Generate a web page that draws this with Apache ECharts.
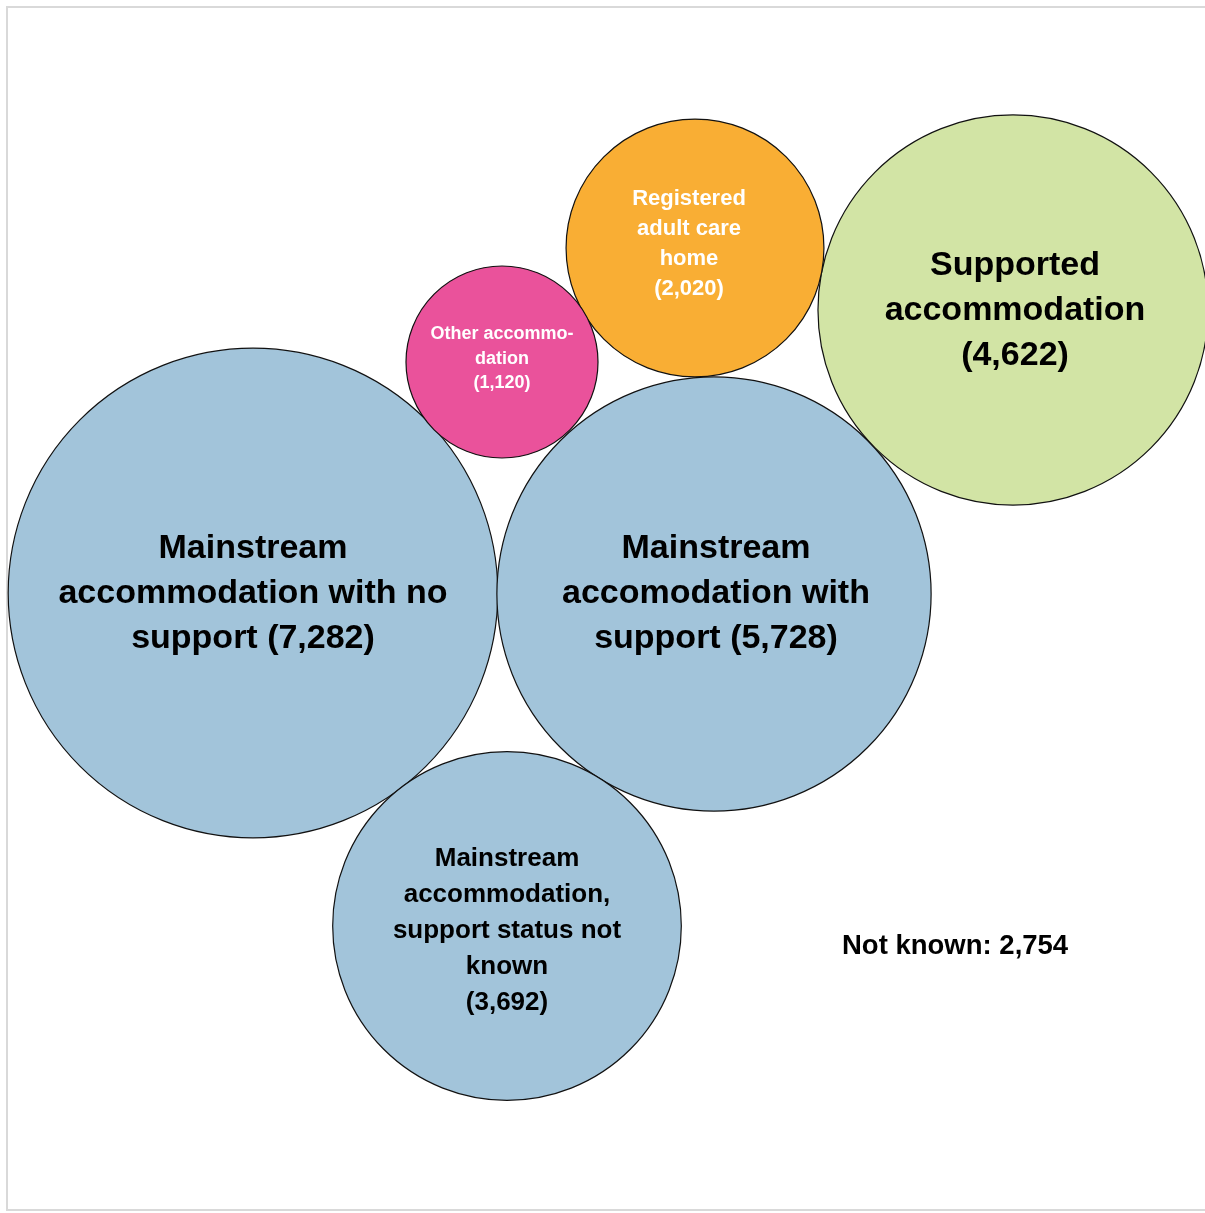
<!DOCTYPE html>
<html>
<head>
<meta charset="utf-8">
<script src="https://cdn.jsdelivr.net/npm/echarts@6/dist/echarts.min.js"></script>
<style>
html,body{margin:0;padding:0;background:#fff;}
#chart{width:1205px;height:1213px;}
</style>
</head>
<body>
<div id="chart"></div>
<script>
// Data
const categories = [
  'Mainstream\naccommodation with no\nsupport (7,282)',
  'Mainstream\naccomodation with\nsupport (5,728)',
  'Mainstream\naccommodation,\nsupport status not\nknown\n(3,692)',
  'Supported\naccommodation\n(4,622)',
  'Registered\nadult care\nhome\n(2,020)',
  'Other accommo-\ndation\n(1,120)'
];
const values = [7282, 5728, 3692, 4622, 2020, 1120];
// bubble layout positions (layout units, y grows downward)
const bubbleX = [253, 714, 507, 1013, 695, 502];
const bubbleY = [593, 594, 926, 310, 248, 362];
const notKnownLabel = 'Not known: 2,754';

// Styles
const fills = ['#a2c4da', '#a2c4da', '#a2c4da', '#d2e4a5', '#f9ae34', '#ea529b'];
const textColors = ['#000', '#000', '#000', '#000', '#fff', '#fff'];
const fontSizes = [34, 34, 26, 34, 22, 18];
const lineHeights = [45, 45, 36, 45, 30, 24.5];
const labelOffsets = [[0, 1], [2, 0], [0, 5], [2, 1], [-6, -4], [0, -3]];
const areaScale = 8.23; // px^2 per unit

const FONT = "'Liberation Sans', Arial, sans-serif";

const seriesData = values.map((v, i) => ({
  name: categories[i],
  value: [bubbleX[i], bubbleY[i], v],
  itemStyle: { color: fills[i], borderColor: '#111', borderWidth: 1.2, opacity: 1 },
  label: {
    show: true,
    position: 'inside',
    formatter: categories[i],
    color: textColors[i],
    fontSize: fontSizes[i],
    lineHeight: lineHeights[i],
    fontWeight: 'bold',
    fontFamily: FONT,
    align: 'center',
    offset: labelOffsets[i]
  }
}));

const chart = echarts.init(document.getElementById('chart'));
chart.setOption({
  animation: false,
  backgroundColor: '#fff',
  grid: { left: 0, top: 0, right: 0, bottom: 0 },
  xAxis: { type: 'value', min: 0, max: 1205, show: false },
  yAxis: { type: 'value', min: 0, max: 1213, inverse: true, show: false },
  graphic: [
    {
      type: 'rect',
      shape: { x: 7, y: 7, width: 1210, height: 1203 },
      style: { fill: 'none', stroke: '#d9d9d9', lineWidth: 2 },
      z: 0
    },
    {
      type: 'text',
      left: 842,
      top: 932,
      style: {
        text: notKnownLabel,
        fill: '#000',
        font: "bold 27.5px " + FONT
      },
      z: 10
    }
  ],
  series: [{
    type: 'scatter',
    clip: false,
    data: seriesData,
    symbol: 'circle',
    symbolSize: function (val) { return 2 * Math.sqrt(val[2] * areaScale); },
    itemStyle: { opacity: 1 },
    emphasis: { disabled: true }
  }]
});
</script>
</body>
</html>
